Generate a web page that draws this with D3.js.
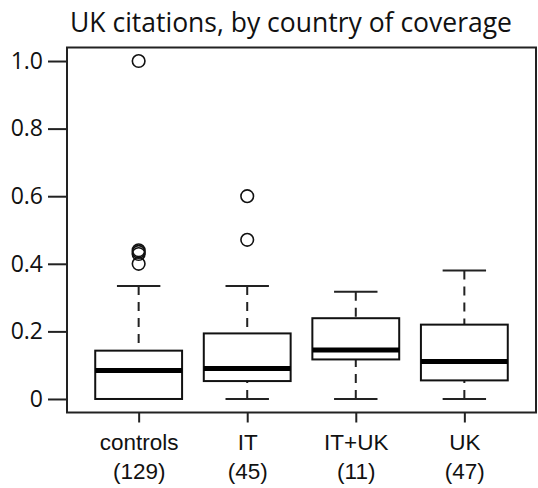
<!DOCTYPE html>
<html>
<head>
<meta charset="utf-8">
<script src="https://cdn.jsdelivr.net/npm/d3@7"></script>
<style>
  html, body { margin: 0; padding: 0; background: #fff; }
  svg { display: block; }
</style>
</head>
<body>
<svg id="chart" width="538" height="488"></svg>
<script>
// ---- data (box-plot summaries) ----
const categories = ["controls", "IT", "IT+UK", "UK"];
const counts = [129, 45, 11, 47];
const whiskerLow = [0, 0, 0, 0];
const q1 = [0, 0.053, 0.117, 0.055];
const medians = [0.084, 0.090, 0.145, 0.111];
const q3 = [0.143, 0.194, 0.239, 0.220];
const whiskerHigh = [0.334, 0.334, 0.317, 0.380];
const outliers = [[0.40, 0.429, 0.435, 0.44, 1.0], [0.471, 0.60], [], []];
const yTicks = [0, 0.2, 0.4, 0.6, 0.8, 1.0];
const title = "UK citations, by country of coverage";

// ---- layout ----
const svg = d3.select("#chart");
const plot = { left: 67, right: 536, top: 47.5, bottom: 412.5 };

const x = d3.scaleLinear()
  .domain([0.34, categories.length + 0.66])
  .range([plot.left, plot.right]);
const y = d3.scaleLinear()
  .domain([-0.04, 1.04])
  .range([plot.bottom, plot.top]);

const unit = x(2) - x(1);
const boxW = unit * 0.8;
const capW = boxW / 2;

// title
svg.append("text")
  .attr("x", 291).attr("y", 32)
  .attr("text-anchor", "middle")
  .style("font-family", "'Open Sans', sans-serif")
  .style("font-size", "26.5px")
  .attr("fill", "#111")
  .text(title);

// y axis
const yAxis = svg.append("g")
  .attr("transform", `translate(${plot.left},0)`)
  .call(d3.axisLeft(y).tickValues(yTicks).tickSize(19).tickPadding(5)
    .tickFormat(d => d === 0 ? "0" : d3.format(".1f")(d)));
yAxis.select(".domain").remove();
yAxis.selectAll(".tick line").attr("stroke", "#222").attr("stroke-width", 2);
yAxis.selectAll(".tick text")
  .style("font-family", "'Open Sans', sans-serif")
  .style("font-size", "23px")
  .attr("fill", "#111");

// x axis
const xAxis = svg.append("g")
  .attr("transform", `translate(0,${plot.bottom})`)
  .call(d3.axisBottom(x).tickValues(categories.map((c, i) => i + 1)).tickSize(10).tickFormat(""));
xAxis.select(".domain").remove();
xAxis.selectAll(".tick line").attr("stroke", "#222").attr("stroke-width", 2);
xAxis.selectAll(".tick").each(function(d, i) {
  const t = d3.select(this).append("text")
    .attr("text-anchor", "middle")
    .style("font-family", "'Liberation Sans', Arial, sans-serif")
    .style("font-size", "22.5px")
    .attr("fill", "#111");
  t.append("tspan").attr("x", 0).attr("y", 37).text(categories[i]);
  t.append("tspan").attr("x", 0).attr("y", 66).text(`(${counts[i]})`);
});

// frame
svg.append("rect")
  .attr("x", plot.left).attr("y", plot.top)
  .attr("width", plot.right - plot.left).attr("height", plot.bottom - plot.top)
  .attr("fill", "none").attr("stroke", "#222").attr("stroke-width", 2);

// boxes
const g = svg.append("g");
categories.forEach((c, i) => {
  const cx = x(i + 1);
  // whiskers (dashed, drawn from whisker end toward box)
  [[whiskerLow[i], q1[i]], [whiskerHigh[i], q3[i]]].forEach(([a, b]) => {
    if (a === b) return;
    g.append("line")
      .attr("x1", cx).attr("x2", cx).attr("y1", y(a)).attr("y2", y(b))
      .attr("stroke", "#222").attr("stroke-width", 2)
      .attr("stroke-dasharray", "9,7");
    g.append("line")
      .attr("x1", cx - capW / 2).attr("x2", cx + capW / 2)
      .attr("y1", y(a)).attr("y2", y(a))
      .attr("stroke", "#222").attr("stroke-width", 2);
  });
  // box
  g.append("rect")
    .attr("x", cx - boxW / 2).attr("y", y(q3[i]))
    .attr("width", boxW).attr("height", y(q1[i]) - y(q3[i]))
    .attr("fill", "#fff").attr("stroke", "#111").attr("stroke-width", 2);
  // median
  g.append("line")
    .attr("x1", cx - boxW / 2).attr("x2", cx + boxW / 2)
    .attr("y1", y(medians[i])).attr("y2", y(medians[i]))
    .attr("stroke", "#000").attr("stroke-width", 5);
  // outliers
  outliers[i].forEach(v => {
    g.append("circle")
      .attr("cx", cx).attr("cy", y(v)).attr("r", 6.3)
      .attr("fill", "none").attr("stroke", "#111").attr("stroke-width", 1.6);
  });
});
</script>
</body>
</html>
